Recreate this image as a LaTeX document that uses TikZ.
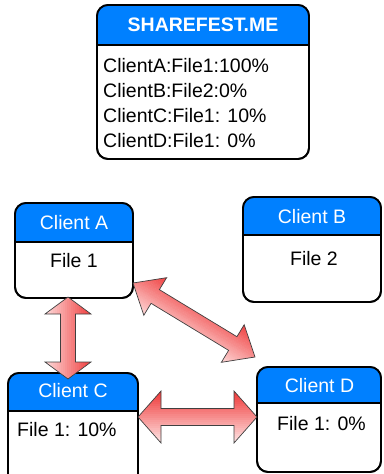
\documentclass[tikz,border=0pt]{standalone}
\usepackage{fontspec}
\setmainfont{Liberation Sans}
\usetikzlibrary{calc}
\definecolor{hdrblue}{RGB}{0,128,255}
\definecolor{arrred}{RGB}{238,45,45}
\definecolor{arrlight}{RGB}{255,236,236}
\tikzset{
  boxframe/.style={draw=black, line width=1.8pt, rounded corners=11pt, inner sep=0pt, outer sep=0pt, fill=white},
  hdrtext/.style={font=\fontsize{19.5}{24}\selectfont, text=white, anchor=base, inner sep=0pt},
  bodytext/.style={font=\fontsize{19.5}{25}\selectfont, anchor=base, inner sep=0pt},
  fatarrow/.style={draw=black!75, line width=0.7pt, line join=miter},
}
\newcommand{\clientbox}[6]{%
  \node[boxframe, minimum width=#4-#2, minimum height=#5-#3] (#1) at ({(#2+#4)/2},{(#3+#5)/2}) {};
  \begin{scope}
    \clip[rounded corners=11pt] (#1.north west) rectangle (#1.south east);
    \fill[hdrblue] (#1.north west) rectangle ($(#1.north east)+(0,#6-#3)$);
  \end{scope}
  \draw[line width=1.8pt] ($(#1.north west)+(0,#6-#3)$) -- ($(#1.north east)+(0,#6-#3)$);
  \draw[boxframe, fill=none] (#1.north west) rectangle (#1.south east);
}
% outline of a double arrow: from, to, head half width, shaft half width (uses da1, db1)
\newcommand{\arrowoutline}[4]{(#1) -- ($(da1)!#3!90:(#2)$) -- ($(da1)!#4!90:(#2)$) -- ($(db1)!#4!-90:(#1)$) -- ($(db1)!#3!-90:(#1)$) -- (#2) -- ($(db1)!#3!90:(#1)$) -- ($(db1)!#4!90:(#1)$) -- ($(da1)!#4!-90:(#2)$) -- ($(da1)!#3!-90:(#2)$) -- cycle}
\newcommand{\dblarrow}[5]{%
  \coordinate (da1) at ($(#1)!#3!(#2)$);
  \coordinate (db1) at ($(#2)!#3!(#1)$);
  \begin{scope}
    \clip \arrowoutline{#1}{#2}{#4}{#5};
    \foreach \k in {-14,...,14}{%
      \pgfmathsetmacro{\off}{2*\k}%
      \pgfmathtruncatemacro{\pct}{(\k+14)/28*100}%
      \draw[line width=2.3pt, draw=arrred!\pct!arrlight] ($(#1)!\off pt!90:(#2)$) -- ($(#2)!\off pt!-90:(#1)$);
    }
  \end{scope}
  \draw[fatarrow] \arrowoutline{#1}{#2}{#4}{#5};
}
\begin{document}
\begin{tikzpicture}[x=1pt, y=-1pt]
\clip (0,0) rectangle (383,474);
% server box
\clientbox{server}{97}{5}{309}{159}{45}
\node[hdrtext, font=\bfseries\fontsize{19.5}{24}\selectfont] (serverT) at (203,31) {SHAREFEST.ME};
\node[bodytext, anchor=base west] (s1) at (103,72) {ClientA:File1:100\%};
\node[bodytext, anchor=base west] (s2) at (103,97) {ClientB:File2:0\%};
\node[bodytext, anchor=base west] (s3) at (103,122) {ClientC:File1: 10\%};
\node[bodytext, anchor=base west] (s4) at (103,147) {ClientD:File1: 0\%};
% clients
\clientbox{A}{15}{203}{133}{298}{242}
\node[hdrtext] (AT) at (74,229) {Client A};
\node[bodytext] (AF) at (74,267) {File 1};
\clientbox{B}{243}{197}{381}{302}{235}
\node[hdrtext] (BT) at (312,223) {Client B};
\node[bodytext] (BF) at (314,265) {File 2};
\clientbox{C}{8}{373}{138}{495}{411}
\node[hdrtext] (CT) at (73,397) {Client C};
\node[bodytext, anchor=base west] (CF) at (17,436) {File 1: 10\%};
\clientbox{D}{257}{367}{381}{472}{403}
\node[hdrtext] (DT) at (319.5,392) {Client D};
\node[bodytext, anchor=base west] (DF) at (277,430) {File 1: 0\%};
% arrows
\coordinate (vA) at ($(A.south)+(-6,-1)$);
\coordinate (vC) at ($(C.north)+(-5,6)$);
\dblarrow{vA}{vC}{17pt}{23pt}{7.5pt}
\coordinate (hC) at ($(C.north east)+(0,44)$);
\coordinate (hD) at ($(D.north west)+(0,50)$);
\dblarrow{hC}{hD}{23pt}{26pt}{8.5pt}
\coordinate (dA) at ($(A.north east)+(0,80)$);
\coordinate (dD) at ($(D.north west)+(-2,-10)$);
\dblarrow{dA}{dD}{26pt}{22pt}{8pt}
\end{tikzpicture}
\end{document}
